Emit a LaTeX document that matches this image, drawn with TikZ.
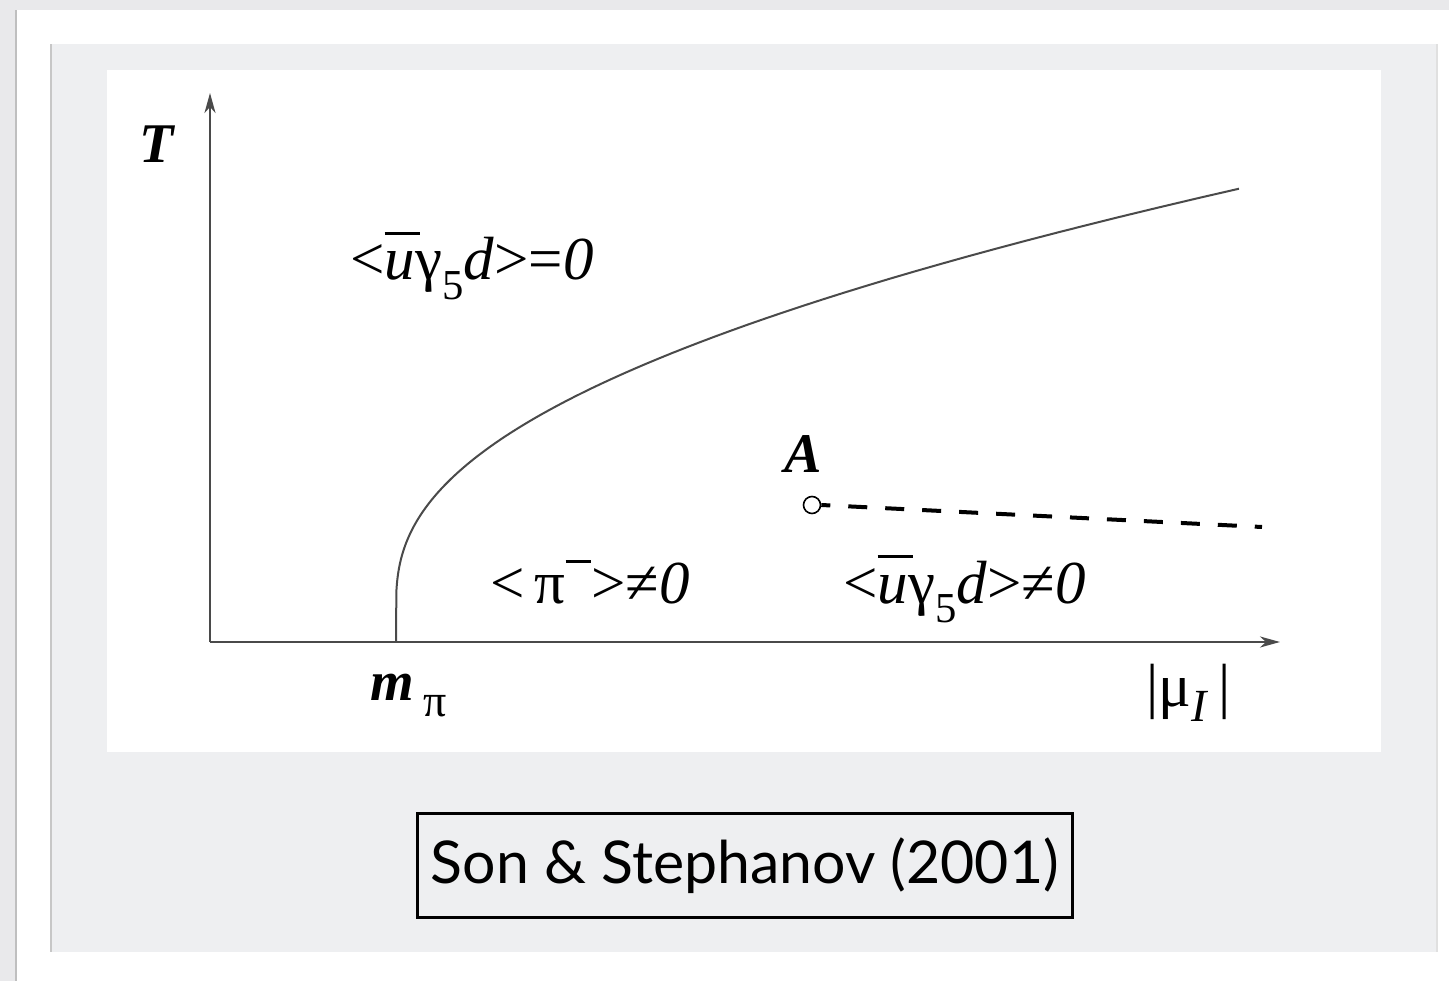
\documentclass[tikz,border=0pt]{standalone}
\usepackage{fontspec}
\setmainfont{Liberation Serif}
\newfontfamily\capfont{Lato}
\usetikzlibrary{arrows.meta}
\definecolor{outerbg}{HTML}{E9E9EB}
\definecolor{panelbg}{HTML}{EEEFF1}
\definecolor{axisgray}{HTML}{4A4A4A}
\newcommand\ubarred{\rlap{\kern0.0em\raisebox{0.74em}{\rule{0.58em}{0.04em}}}\textit{u}}
\newcommand\pibar{π\raisebox{0.66em}{\rule{0.42em}{0.04em}}}
\tikzset{
  lbl/.style={inner sep=0pt, font=\fontsize{61}{64}\selectfont},
  axislbl/.style={inner sep=0pt, font=\fontsize{56}{60}\selectfont\bfseries\itshape},
  axisline/.style={draw=axisgray, line width=2.2pt, -{Stealth[length=20pt,width=11pt,inset=6pt]}},
  boundary/.style={draw=axisgray, line width=2pt},
  dashline/.style={draw=black, line width=4pt, dash pattern=on 19pt off 18pt, dash phase=10pt},
  capbox/.style={draw=black, line width=3pt, fill=panelbg, inner sep=0pt, minimum width=655pt, minimum height=104pt}
}
\begin{document}
\begin{tikzpicture}[x=1pt,y=-1pt]
\useasboundingbox (0,0) rectangle (1449,981);
% backgrounds
\fill[outerbg] (0,0) rectangle (1449,981);
\fill[white] (16,10) rectangle (1449,981);
\fill[black!25] (15,10) rectangle (17,981);
\fill[panelbg] (51,44) rectangle (1437,952);
\fill[black!22] (50,44) rectangle (52,952);
\fill[black!12] (1436,44) rectangle (1438,952);
\fill[white] (107,70) rectangle (1381,752);
% axes
\coordinate (O) at (210,642);
\coordinate (Ytip) at (210,93);
\coordinate (Xtip) at (1280,642);
\draw[axisline] (O) -- (Ytip);
\draw[axisline] (O) -- (Xtip);
% phase boundary
\coordinate (B0) at (396,642);
\draw[boundary, line join=round] (B0) -- (396.37,590.5) -- plot[domain=-1:6.738, samples=160, variable=\u] ({396+exp(\u)}, {642-exp(4.08+0.181*\u+0.018*\u*\u)});
% point A and dashed line
\node[circle, draw=black, line width=1.6pt, fill=white, minimum size=17pt, inner sep=0pt] (A) at (812,505) {};
\coordinate (Dend) at (1262,527);
\draw[dashline] (A.east) -- (Dend);
\node[axislbl, anchor=base] (Alab) at (803,472) {A};
% labels
\node[axislbl, anchor=base] (T) at (157,163) {T};
\node[lbl, anchor=base west] (L1) at (350,280) {\textless\ubarred γ\textsubscript{5}\textit{d}\textgreater=\textit{0}};
\node[lbl, anchor=base west] (L2) at (490,603) {\textless\,\pibar\textgreater≠\textit{0}};
\node[lbl, anchor=base west] (L3) at (843,603) {\textless\ubarred γ\textsubscript{5}\textit{d}\textgreater≠\textit{0}};
\node[axislbl, anchor=base west] (mpi) at (370,700) {m\,\raisebox{-0.3em}{\normalfont\fontsize{46}{48}\selectfont π}};
\node[lbl, anchor=base west] (mu) at (1146,706) {|μ\raisebox{-0.25em}{\fontsize{46}{48}\selectfont\textit{I}}\,|};
% caption
\node[capbox, anchor=north west] (cap) at (416,812) {};
\node[inner sep=0pt, font=\capfont\fontsize{59}{62}\selectfont] (captxt) at (cap.center) {Son \& Stephanov (2001)};
\end{tikzpicture}
\end{document}
